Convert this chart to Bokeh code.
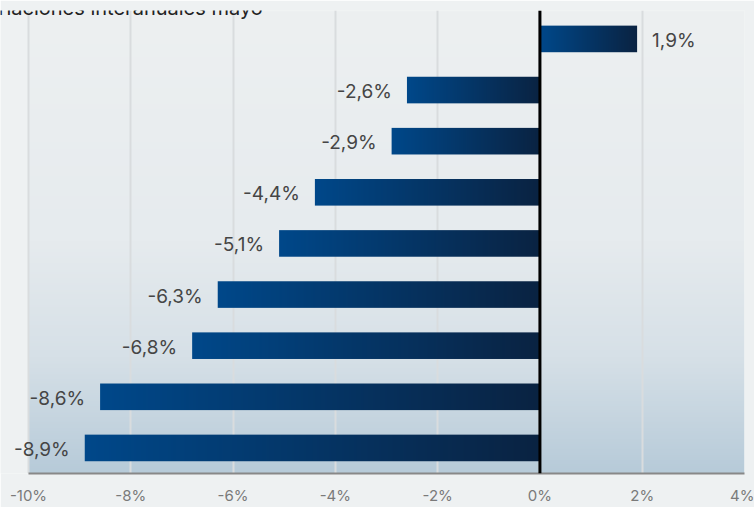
import numpy as np
from bokeh.plotting import figure
from bokeh.models import (ColumnDataSource, Range1d, FixedTicker, Span, Label,
                          LabelSet)
from bokeh.core.properties import value
from bokeh.embed import file_html
from bokeh.resources import INLINE

# ---- data ----
title_text = "Variaciones interanuales mayo"
values = [1.9, -2.6, -2.9, -4.4, -5.1, -6.3, -6.8, -8.6, -8.9]
tick_values = [-10, -8, -6, -4, -2, 0, 2, 4]
tick_labels = ["-10%", "-8%", "-6%", "-4%", "-2%", "0%", "2%", "4%"]

FONT = "Inter"
n = len(values)
ys = [n - 1 - i for i in range(n)]
y_lo, y_hi = -0.5, 8.556
x_lo, x_hi = tick_values[0], tick_values[-1]

# frame spans the full canvas width on the left so that nothing is clipped;
# the data range starts a little before -10 so that -10 sits 28 px in.
WIDTH, HEIGHT, RIGHT_PAD, LEFT_PAD = 754, 507, 10, 28
kpx = (WIDTH - RIGHT_PAD - LEFT_PAD) / (x_hi - x_lo)
x_start = x_lo - LEFT_PAD / kpx

p = figure(width=WIDTH, height=HEIGHT, output_backend="svg",
           toolbar_location=None,
           x_range=Range1d(x_start, x_hi), y_range=Range1d(y_lo, y_hi),
           min_border_left=0, min_border_right=RIGHT_PAD, min_border_top=10,
           min_border_bottom=27)
p.outline_line_color = None
p.border_fill_color = "#eef1f2"
p.background_fill_color = "#eef1f2"

# background vertical gradient (row 0 = bottom)
H = 256
t = np.linspace(0, 1, H)  # 0 bottom, 1 top
stops_t = [0.0, 0.25, 0.5, 1.0]
stops_c = [(183, 203, 217), (214, 224, 231), (230, 235, 238), (237, 240, 241)]
bg = np.zeros((H, 1, 4), dtype=np.uint8)
for k in range(3):
    bg[:, 0, k] = np.interp(t, stops_t, [c[k] for c in stops_c]).astype(np.uint8)
bg[:, 0, 3] = 255
bg_img = bg.view(np.uint32).reshape(H, 1)
p.image_rgba(image=[bg_img], x=x_lo, y=y_lo, dw=x_hi - x_lo, dh=y_hi - y_lo,
             level="image")

# grid & axis
p.xgrid.ticker = FixedTicker(ticks=tick_values)
p.xgrid.grid_line_color = "#d9dcde"
p.xgrid.grid_line_width = 2
p.ygrid.visible = False
p.yaxis.visible = False
ax = p.xaxis[0]
ax.bounds = (x_lo, x_hi)
ax.ticker = FixedTicker(ticks=tick_values)
ax.major_label_overrides = dict(zip(tick_values, tick_labels))
ax.major_tick_line_color = None
ax.minor_tick_line_color = None
ax.major_tick_out = 0
ax.major_tick_in = 0
ax.major_label_standoff = 12
ax.axis_line_color = "#888888"
ax.axis_line_width = 2
ax.major_label_text_font = FONT
ax.major_label_text_font_size = "15px"
ax.major_label_text_color = "#7a7a7a"

# bars with horizontal gradient
W = 256
s = np.linspace(0, 1, W)
c_left = (0, 72, 138)
c_right = (10, 35, 66)
bar = np.zeros((1, W, 4), dtype=np.uint8)
for k in range(3):
    bar[0, :, k] = (c_left[k] + (c_right[k] - c_left[k]) * s).astype(np.uint8)
bar[0, :, 3] = 255
bar_img = bar.view(np.uint32).reshape(1, W)
bh = 0.52
p.image_rgba(image=[bar_img] * n,
             x=[min(0, v) for v in values],
             y=[y - bh / 2 for y in ys],
             dw=[abs(v) for v in values],
             dh=[bh] * n)

# value labels
src = ColumnDataSource(dict(
    x=values, y=ys,
    text=[("%.1f%%" % v).replace(".", ",") for v in values],
    align=["left" if v >= 0 else "right" for v in values],
    xoff=[15 if v >= 0 else -15 for v in values],
))
p.add_layout(LabelSet(x="x", y="y", text="text", text_align="align",
                      x_offset="xoff", y_offset=-1.5, text_baseline="middle",
                      source=src, text_font=value(FONT),
                      text_font_size=value("19px"),
                      text_color=value("#454545")))

p.add_layout(Span(location=0, dimension="height", line_color="black",
                  line_width=3))

p.add_layout(Label(x=-5.42, y=8.614, text=title_text, text_align="right",
                   text_baseline="alphabetic", text_font=FONT,
                   text_font_size="20px", text_color="#222222"))

open("out.html", "w").write(file_html(p, INLINE))
